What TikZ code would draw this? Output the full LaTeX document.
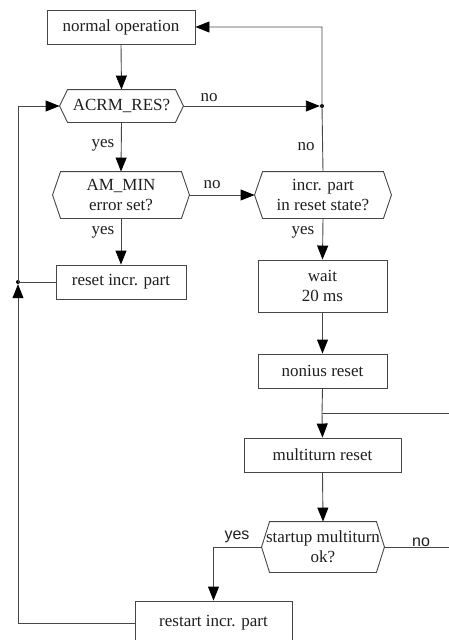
\documentclass[tikz,border=0pt]{standalone}
\usepackage{fontspec}
\setmainfont{Liberation Serif}
\newfontfamily\labelsans{Liberation Sans}
\usetikzlibrary{arrows.meta}

\definecolor{linegray}{RGB}{70,70,70}
\definecolor{textgray}{RGB}{30,30,30}

\tikzset{
  box/.style={draw=linegray, line width=0.9pt, text=textgray, align=center,
    inner sep=0pt, font=\fontsize{17}{20}\selectfont},
  decision/.style={box, draw=none},
  line/.style={draw=linegray, line width=0.9pt},
  arrow/.style={line, -{Triangle[length=14pt,width=11pt,color=black]}},
  lbl/.style={text=textgray, inner sep=0pt, font=\fontsize{17}{20}\selectfont},
  lblsans/.style={lbl, font=\labelsans\fontsize{16}{19}\selectfont},
  dot/.style={circle, fill=black, inner sep=0pt, minimum size=4pt}
}

\begin{document}
\begin{tikzpicture}[x=1pt, y=-1pt]

    \useasboundingbox (0,0) rectangle (449,640);

    % Boxes
    \node[box, minimum width=148pt, minimum height=34pt] (normal) at (121,27) {normal operation};
    \node[box, minimum width=130pt, minimum height=34pt] (reset) at (121,282) {reset incr. part};
    \node[box, minimum width=129pt, minimum height=52pt] (wait) at (322.5,286) {wait\\20 ms};
    \node[box, minimum width=129pt, minimum height=34pt] (nonius) at (322.5,371) {nonius reset};
    \node[box, minimum width=157pt, minimum height=34pt] (multi) at (322.5,455) {multiturn reset};
    \node[box, minimum width=157pt, minimum height=44pt] (restart) at (213.5,623) {restart incr. part};

    % Decisions
    \node[decision, minimum width=123pt, minimum height=32pt] (acrm) at (121.5,106) {ACRM\_RES?};
    \node[decision, minimum width=136pt, minimum height=46pt] (ammin) at (121,195) {AM\_MIN\\error set?};
    \node[decision, minimum width=136pt, minimum height=46pt] (incr) at (323,195) {incr. part\\in reset state?};
    \node[decision, minimum width=122pt, minimum height=50pt] (startup) at (323,547) {startup multiturn\\ok?};

    \foreach \n in {acrm,ammin,incr,startup}
      \draw[line] (\n.west) -- ([xshift=8pt]\n.north west) -- ([xshift=-8pt]\n.north east)
        -- (\n.east) -- ([xshift=-8pt]\n.south east) -- ([xshift=8pt]\n.south west) -- cycle;

    % Junctions
    \node[dot] (j1) at (322,106) {};
    \node[dot] (j2) at (18,282) {};
    \coordinate (j3) at (322,413);
    \coordinate (e1) at (449,413);
    \coordinate (e2) at (449,547);

    % Connectors
    \draw[arrow] (normal.south) -- (acrm.north);
    \draw[arrow] (acrm.east) -- (j1.west);
    \draw[arrow] (incr.north) -- (j1.center) |- (normal.east);
    \draw[arrow] (acrm.south) -- (ammin.north);
    \draw[arrow] (ammin.east) -- (incr.west);
    \draw[arrow] (ammin.south) -- (reset.north);
    \draw[line] (reset.west) -- (j2.center);
    \draw[arrow] (restart.west) -| (j2.south);
    \draw[arrow] (j2.center) |- (acrm.west);
    \draw[arrow] (incr.south) -- (wait.north);
    \draw[arrow] (wait.south) -- (nonius.north);
    \draw[line] (nonius.south) -- (j3);
    \draw[arrow] (j3) -- (multi.north);
    \draw[line] (j3) -- (e1);
    \draw[arrow] (multi.south) -- (startup.north);
    \draw[arrow] (startup.west) -| (restart.north);
    \draw[line] (startup.east) -- (e2);

    % Labels
    \node[lbl] (no1) at (209,98) {no};
    \node[lbl] (no2) at (306,147) {no};
    \node[lbl] (yes1) at (103,145) {yes};
    \node[lbl] (no3) at (212,185) {no};
    \node[lbl] (yes2) at (103,232) {yes};
    \node[lbl] (yes3) at (303,232) {yes};
    \node[lblsans] (yes4) at (237,537) {yes};
    \node[lblsans] (no4) at (421,542) {no};

\end{tikzpicture}
\end{document}
